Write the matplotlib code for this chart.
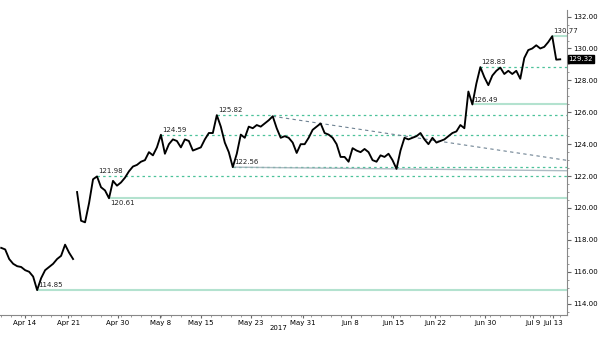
import numpy as np
import matplotlib
matplotlib.use("Agg")
import matplotlib.pyplot as plt
from matplotlib.ticker import MultipleLocator, FixedLocator

# EUR/JPY, one value every few hours; the weekend gap after Apr 21 splits the series
before_gap = [117.5, 117.4, 116.8, 116.5, 116.35, 116.3, 116.1, 116.0, 115.7, 114.85,
              115.6, 116.1, 116.3, 116.5, 116.8, 117.0, 117.7, 117.2, 116.8]
after_gap = [121.0, 119.2, 119.1, 120.3, 121.8, 121.98, 121.3, 121.1, 120.61, 121.7,
             121.4, 121.6, 121.9, 122.3, 122.6, 122.7, 122.9, 123.0, 123.5, 123.3,
             123.8, 124.59, 123.4, 124.0, 124.3, 124.2, 123.8, 124.3, 124.2, 123.6,
             123.7, 123.8, 124.3, 124.7, 124.7, 125.82, 125.1, 124.1, 123.5, 122.56,
             123.4, 124.6, 124.4, 125.1, 125.0, 125.2, 125.1, 125.3, 125.5, 125.75,
             125.0, 124.4, 124.5, 124.4, 124.1, 123.45, 124.0, 124.0, 124.4, 124.9,
             125.1, 125.3, 124.7, 124.6, 124.4, 124.0, 123.2, 123.2, 122.9, 123.75,
             123.6, 123.5, 123.7, 123.5, 123.0, 122.9, 123.3, 123.2, 123.4, 123.0,
             122.45, 123.6, 124.4, 124.3, 124.4, 124.5, 124.7, 124.3, 124.0, 124.4,
             124.1, 124.2, 124.3, 124.5, 124.7, 124.8, 125.2, 125.0, 127.3, 126.49,
             127.8, 128.83, 128.2, 127.7, 128.3, 128.6, 128.8, 128.4, 128.6, 128.4,
             128.6, 128.1, 129.4, 129.9, 130.0, 130.2, 130.0, 130.1, 130.4, 130.77,
             129.3, 129.32]

tick_pos = [5.9, 16.8, 29.2, 39.8, 50.0, 62.5, 75.5, 87.5, 98.2, 108.7, 121.2, 133.2, 138.2]
tick_lbl = ["Apr 14", "Apr 21", "Apr 30", "May 8", "May 15", "May 23", "May 31",
            "Jun 8", "Jun 15", "Jun 22", "Jun 30", "Jul 9", "Jul 13"]

dotted_levels = [121.98, 124.59, 125.82, 122.56, 128.83]
solid_levels = [114.85, 120.61, 126.49, 130.77]
label_above = {121.98: True, 124.59: True, 125.82: True, 122.56: True, 128.83: True,
               114.85: True, 120.61: False, 126.49: True, 130.77: True}
last_price = 129.32

prices = np.array(before_gap + after_gap)
n1 = len(before_gap)
x_all = np.arange(len(prices))
xmax = 141.7

fig = plt.figure(figsize=(6, 3.4), dpi=100)
ax = fig.add_axes([0.0, 0.074, 0.945, 0.896])
ax.set_xlim(-0.3, xmax)
ax.set_ylim(113.3, 132.4)

green = "#4cc29a"
pale = "#b3e2cf"

for lv in dotted_levels:
    i0 = int(np.argmin(np.abs(prices - lv)))
    ax.hlines(lv, i0, xmax, color=green, lw=0.9, linestyles=(0, (2, 2.5)), zorder=1)
for lv in solid_levels:
    i0 = int(np.argmin(np.abs(prices - lv)))
    ax.hlines(lv, i0, xmax, color=pale, lw=1.5, zorder=1)

for lv, up in label_above.items():
    i0 = int(np.argmin(np.abs(prices - lv)))
    ax.text(i0 + 0.3, lv + (0.12 if up else -0.12), f"{lv:.2f}", fontsize=5,
            va="bottom" if up else "top", ha="left", color="#222222", zorder=4)

# falling trend line through the late-May and early-June highs
a, b = n1 + 49, n1 + 61
slope = (prices[b] - prices[a]) / (b - a)
xs = np.array([a, xmax])
ax.plot(xs, prices[a] + slope * (xs - a), color="#6f8393", lw=0.8,
        ls=(0, (3, 3)), zorder=2)
# support line through the two lows
c, d = n1 + 39, n1 + 80
slope2 = (prices[d] - prices[c]) / (d - c)
xs2 = np.array([c, xmax])
ax.plot(xs2, prices[c] + slope2 * (xs2 - c), color="#9aaab4", lw=1.0, alpha=0.8, zorder=2)

ax.plot(x_all[:n1], prices[:n1], color="black", lw=1.35, zorder=3)
ax.plot(x_all[n1:], prices[n1:], color="black", lw=1.35, zorder=3)

for s in ["top", "left"]:
    ax.spines[s].set_visible(False)
for s in ["right", "bottom"]:
    ax.spines[s].set_color("#888888")
    ax.spines[s].set_linewidth(0.8)
ax.yaxis.tick_right()
ax.set_yticks(np.arange(114, 133, 2))
ax.set_yticklabels([f"{v:.2f}" for v in np.arange(114, 133, 2)])
ax.yaxis.set_minor_locator(MultipleLocator(0.5))
ax.tick_params(axis="y", which="major", labelsize=5, length=3, pad=1.5, color="#666666")
ax.tick_params(axis="y", which="minor", length=1.5, color="#888888")

ax.xaxis.set_major_locator(FixedLocator(tick_pos))
ax.set_xticklabels(tick_lbl)
ax.xaxis.set_minor_locator(MultipleLocator(2.5))
ax.tick_params(axis="x", which="major", labelsize=5, length=2, pad=2, color="#666666")
ax.tick_params(axis="x", which="minor", length=1.5, color="#888888")
ax.text(69.5, 112.65, "2017", fontsize=5, ha="center", va="top")

ax.text(xmax + 0.4, last_price, f"{last_price:.2f}", fontsize=5, color="white",
        ha="left", va="center", clip_on=False,
        bbox=dict(boxstyle="square,pad=0.15", fc="black", ec="black"))

fig.savefig("out.png", dpi=100)
